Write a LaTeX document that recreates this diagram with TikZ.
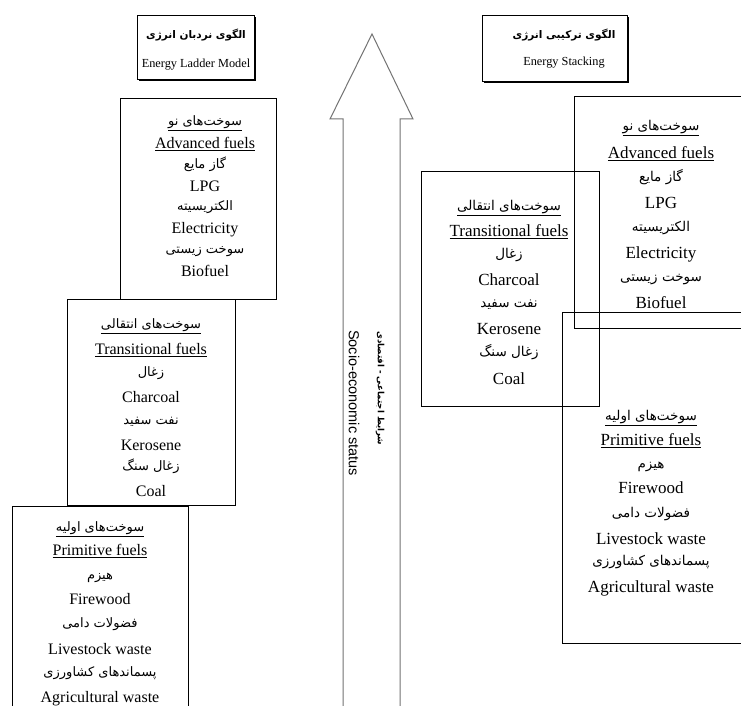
\documentclass[tikz,border=0pt]{standalone}
\usepackage{fontspec}
\setmainfont{Liberation Serif}
\newfontfamily\arabicfont[Script=Arabic]{DejaVu Sans}
\newfontfamily\ensans{Liberation Sans}
\TeXXeTstate=1
\usetikzlibrary{shadows}
\begin{document}
\begin{tikzpicture}[x=1pt,y=-1pt,
  fuelbox/.style={draw=black, line width=1.1pt, inner sep=0pt, anchor=north west},
  titlebox/.style={draw=black, line width=1.2pt, inner sep=0pt, anchor=north west, fill=white,
     drop shadow={shadow xshift=1.6pt, shadow yshift=-1.6pt, fill=black, opacity=1}},
  en/.style={anchor=base, inner sep=0pt, yshift=-5.3pt},
  fa/.style={anchor=base, inner sep=0pt, yshift=-3.2pt},
  enL/.style={en, font=\fontsize{16}{18}\selectfont},
  enR/.style={en, font=\fontsize{17}{19}\selectfont},
  faL/.style={fa, font=\arabicfont\fontsize{13}{15}\selectfont},
  faR/.style={fa, font=\arabicfont\fontsize{13.5}{15}\selectfont},
  enT/.style={en, font=\fontsize{12.3}{14}\selectfont},
  faT/.style={fa, font=\arabicfont\bfseries\fontsize{10.5}{12}\selectfont},
  arrowline/.style={draw=black!55, line width=1pt, line join=miter}
]
\path[use as bounding box, clip] (0,0) rectangle (741,706);
\fill[white] (0,0) rectangle (741,706);

% ---------- central arrow ----------
\draw[arrowline] (343,712) -- (343,119) -- (330,119) -- (372,34) -- (413,119) -- (400,119) -- (400,712);
\node[rotate=-90, anchor=west, inner sep=0pt, font=\ensans\fontsize{14.5}{16}\selectfont] (seEn) at (354,330) {Socio-economic status};
\node[rotate=-90, anchor=west, inner sep=0pt, font=\arabicfont\bfseries\fontsize{8.6}{11}\selectfont] (seFa) at (380,331) {\beginR شرایط اجتماعی - اقتصادی\endR};

% ---------- title boxes ----------
\node[titlebox, minimum width=117pt, minimum height=64pt] (tL) at (137,15) {};
\node[faT] (tL1) at (196,35) {\beginR الگوی نردبان انرژی\endR};
\node[enT] (tL2) at (196,62) {Energy Ladder Model};

\node[titlebox, minimum width=145pt, minimum height=66pt] (tR) at (482,15) {};
\node[faT] (tR1) at (564,35) {\beginR الگوی ترکیبی انرژی\endR};
\node[enT] (tR2) at (564,60) {Energy Stacking};

% ---------- energy ladder (left) ----------
\node[fuelbox, minimum width=156pt, minimum height=201pt] (lA) at (120,98) {};
\node[faL] (lA1) at (205,122) {\underline{\beginR سوخت‌های نو\endR}};
\node[enL] (lA2) at (205,143) {\underline{Advanced fuels}};
\node[faL] (lA3) at (205,165) {\beginR گاز مایع\endR};
\node[enL] (lA4) at (205,186) {LPG};
\node[faL] (lA5) at (205,207) {\beginR الکتریسیته\endR};
\node[enL] (lA6) at (205,228) {Electricity};
\node[faL] (lA7) at (205,250) {\beginR سوخت زیستی\endR};
\node[enL] (lA8) at (205,271) {Biofuel};

\node[fuelbox, minimum width=168pt, minimum height=206pt] (lT) at (67,299) {};
\node[faL] (lT1) at (151,325) {\underline{\beginR سوخت‌های انتقالی\endR}};
\node[enL] (lT2) at (151,349) {\underline{Transitional fuels}};
\node[faL] (lT3) at (151,373) {\beginR زغال\endR};
\node[enL] (lT4) at (151,397) {Charcoal};
\node[faL] (lT5) at (151,421) {\beginR نفت سفید\endR};
\node[enL] (lT6) at (151,445) {Kerosene};
\node[faL] (lT7) at (151,467) {\beginR زغال سنگ\endR};
\node[enL] (lT8) at (151,491) {Coal};

\node[fuelbox, minimum width=176pt, minimum height=220pt] (lP) at (12,506) {};
\node[faL] (lP1) at (100,528) {\underline{\beginR سوخت‌های اولیه\endR}};
\node[enL] (lP2) at (100,550) {\underline{Primitive fuels}};
\node[faL] (lP3) at (100,576) {\beginR هیزم\endR};
\node[enL] (lP4) at (100,599) {Firewood};
\node[faL] (lP5) at (100,624) {\beginR فضولات دامی\endR};
\node[enL] (lP6) at (100,649) {Livestock waste};
\node[faL] (lP7) at (100,673) {\beginR پسماندهای کشاورزی\endR};
\node[enL] (lP8) at (100,697) {Agricultural waste};

% ---------- energy stacking (right) ----------
\node[fuelbox, minimum width=190pt, minimum height=232pt] (rA) at (574,96) {};
\node[faR] (rA1) at (661,127) {\underline{\beginR سوخت‌های نو\endR}};
\node[enR] (rA2) at (661,153) {\underline{Advanced fuels}};
\node[faR] (rA3) at (661,178) {\beginR گاز مایع\endR};
\node[enR] (rA4) at (661,203) {LPG};
\node[faR] (rA5) at (661,228) {\beginR الکتریسیته\endR};
\node[enR] (rA6) at (661,253) {Electricity};
\node[faR] (rA7) at (661,278) {\beginR سوخت زیستی\endR};
\node[enR] (rA8) at (661,303) {Biofuel};

\node[fuelbox, minimum width=178pt, minimum height=235pt] (rT) at (421,171) {};
\node[faR] (rT1) at (509,207) {\underline{\beginR سوخت‌های انتقالی\endR}};
\node[enR] (rT2) at (509,231) {\underline{Transitional fuels}};
\node[faR] (rT3) at (509,255) {\beginR زغال\endR};
\node[enR] (rT4) at (509,280) {Charcoal};
\node[faR] (rT5) at (509,304) {\beginR نفت سفید\endR};
\node[enR] (rT6) at (509,329) {Kerosene};
\node[faR] (rT7) at (509,353) {\beginR زغال سنگ\endR};
\node[enR] (rT8) at (509,379) {Coal};

\node[fuelbox, minimum width=200pt, minimum height=331pt] (rP) at (562,312) {};
\node[faR] (rP1) at (651,417) {\underline{\beginR سوخت‌های اولیه\endR}};
\node[enR] (rP2) at (651,440) {\underline{Primitive fuels}};
\node[faR] (rP3) at (651,465) {\beginR هیزم\endR};
\node[enR] (rP4) at (651,488) {Firewood};
\node[faR] (rP5) at (651,514) {\beginR فضولات دامی\endR};
\node[enR] (rP6) at (651,539) {Livestock waste};
\node[faR] (rP7) at (651,562) {\beginR پسماندهای کشاورزی\endR};
\node[enR] (rP8) at (651,587) {Agricultural waste};
\end{tikzpicture}
\end{document}
